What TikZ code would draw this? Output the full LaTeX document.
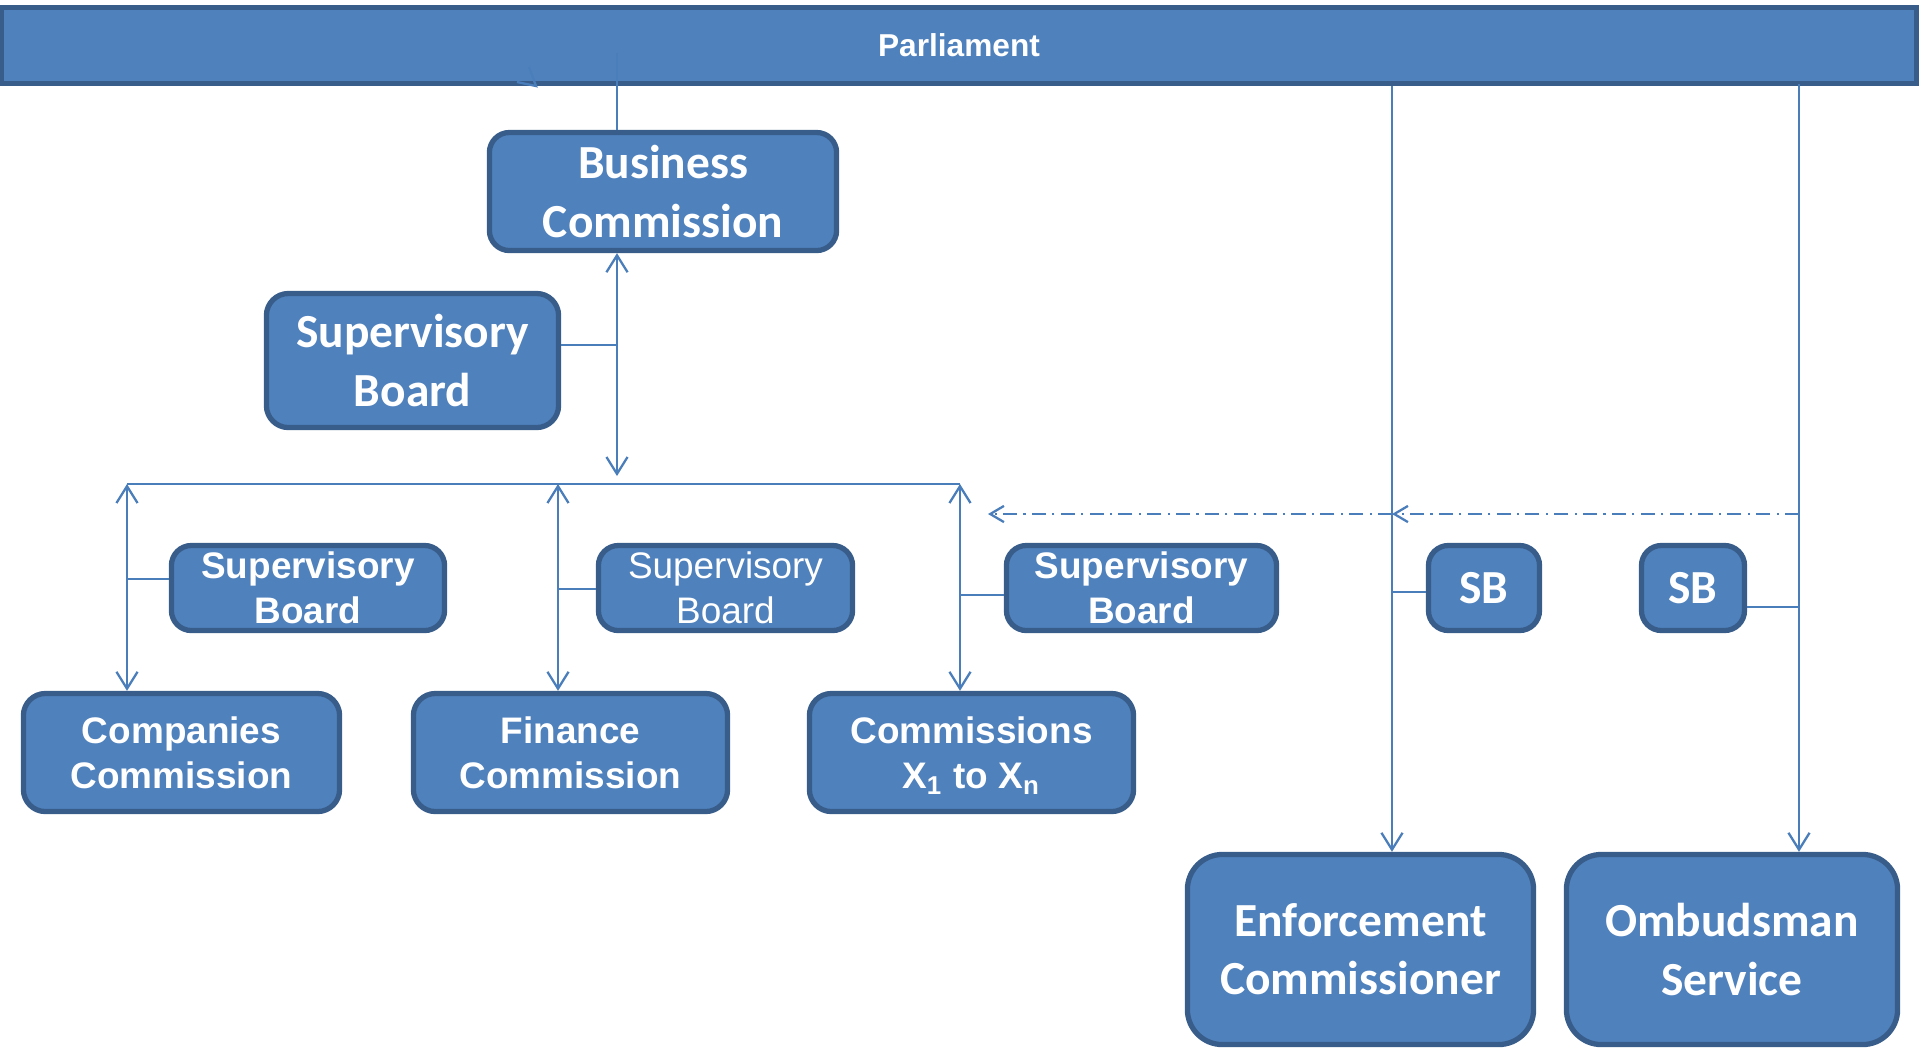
\documentclass[tikz,border=0pt]{standalone}
\usepackage{fontspec}
\setmainfont{Liberation Sans}
\newfontfamily\calibri{Carlito}
\usetikzlibrary{arrows.meta, calc}
\definecolor{boxfill}{HTML}{4F81BD}
\definecolor{boxline}{HTML}{385D8A}
\definecolor{linkcol}{HTML}{4A7EBB}
\tikzset{
  unit/.style={draw=boxline, line width=1.5pt, fill=boxfill, text=white, align=center, inner sep=0pt, rounded corners=0.2cm},
  body/.style={unit, font=\calibri\bfseries\fontsize{13.5}{16.5}\selectfont},
  comm/.style={unit, rounded corners=0.22cm, minimum height=1.18cm, font=\bfseries\fontsize{10.5}{12.8}\selectfont},
  board/.style={unit, minimum height=0.85cm, font=\bfseries\fontsize{10.5}{12.8}\selectfont},
  sbox/.style={body, minimum height=0.85cm},
  link/.style={draw=linkcol, line width=0.65pt},
  arr/.style={link, -{Straight Barb[length=4.8pt, width=6pt]}},
  biarr/.style={link, {Straight Barb[length=4.8pt, width=6pt]}-{Straight Barb[length=4.8pt, width=6pt]}},
  ddarr/.style={link, -{Straight Barb[length=3.9pt, width=4.6pt]}, dash pattern=on 4pt off 1.8pt on 0.6pt off 1.8pt}
}
\begin{document}
\begin{tikzpicture}[x=0.01cm, y=-0.01cm]
\useasboundingbox (0,0) rectangle (1920,1050);
\node[unit, rounded corners=0pt, minimum width=19.14cm, minimum height=0.76cm, font=\bfseries\fontsize{9}{11}\selectfont] (par) at (959,45.5) {Parliament};
\node[body, minimum width=3.47cm, minimum height=1.18cm] (bc) at (663,191.5) {Business\\Commission};
\node[body, minimum width=2.92cm, minimum height=1.34cm, rounded corners=0.22cm] (sbtop) at (412.5,360.5) {Supervisory\\Board};
\node[board, minimum width=2.73cm] (sb1) at (308,588) {Supervisory\\Board};
\node[board, minimum width=2.54cm, font=\fontsize{10.5}{12.8}\selectfont] (sb2) at (725.5,588) {Supervisory\\Board};
\node[board, minimum width=2.70cm] (sb3) at (1141.5,588) {Supervisory\\Board};
\node[comm, minimum width=3.16cm] (comp) at (181.5,752.5) {Companies\\Commission};
\node[comm, minimum width=3.14cm] (fin) at (570.5,752.5) {Finance\\Commission};
\node[comm, minimum width=3.24cm] (comx) at (971.5,752.5) {Commissions\\\smash{X\textsubscript{1} to X\textsubscript{n}}};
\node[sbox, minimum width=1.11cm] (sba) at (1484,588) {SB};
\node[sbox, minimum width=1.03cm] (sbb) at (1693,588) {SB};
\node[body, minimum width=3.46cm, minimum height=1.90cm, rounded corners=0.35cm] (enf) at (1360.5,949.5) {Enforcement\\Commissioner};
\node[body, minimum width=3.31cm, minimum height=1.90cm, rounded corners=0.35cm] (omb) at (1732,949.5) {Ombudsman\\Service};
\coordinate (ptop) at (617,53);
\coordinate (hub) at (617,476);
\coordinate (sbj) at (617,345);
\coordinate (stray) at (536,86);
\coordinate (dl) at (127,484);
\coordinate (dm) at (558,484);
\coordinate (dr) at (960,484);
\coordinate (j1) at (127,579);
\coordinate (j2) at (558,589);
\coordinate (j3) at (960,595);
\coordinate (el) at (1392,86);
\coordinate (ol) at (1799,84);
\coordinate (dd) at (1799,514);
\coordinate (ddtip) at (988,514);
\coordinate (ja) at (1392,592);
\coordinate (jb) at (1799,607);
\draw[link] (ptop) -- (ptop |- bc.north);
\draw[link] ($(stray)+(-7,-19)$) -- (stray) -- ($(stray)+(-19,-4)$);
\draw[biarr] (bc.south -| ptop) -- (hub);
\draw[link] (sbj -| sbtop.east) -- (sbj);
\draw[link] (dl) -- (dr);
\draw[biarr] (dl) -- (dl |- comp.north);
\draw[biarr] (dm) -- (dm |- fin.north);
\draw[biarr] (dr) -- (dr |- comx.north);
\draw[link] (j1) -- (j1 -| sb1.west);
\draw[link] (j2) -- (j2 -| sb2.west);
\draw[link] (j3) -- (j3 -| sb3.west);
\draw[arr] (el) -- (el |- enf.north);
\draw[arr] (ol) -- (ol |- omb.north);
\draw[ddarr] (dd) -- (dd -| el);
\draw[ddarr] (dd -| el) -- (ddtip);
\draw[link] (ja) -- (ja -| sba.west);
\draw[link] (jb -| sbb.east) -- (jb);
\end{tikzpicture}
\end{document}
